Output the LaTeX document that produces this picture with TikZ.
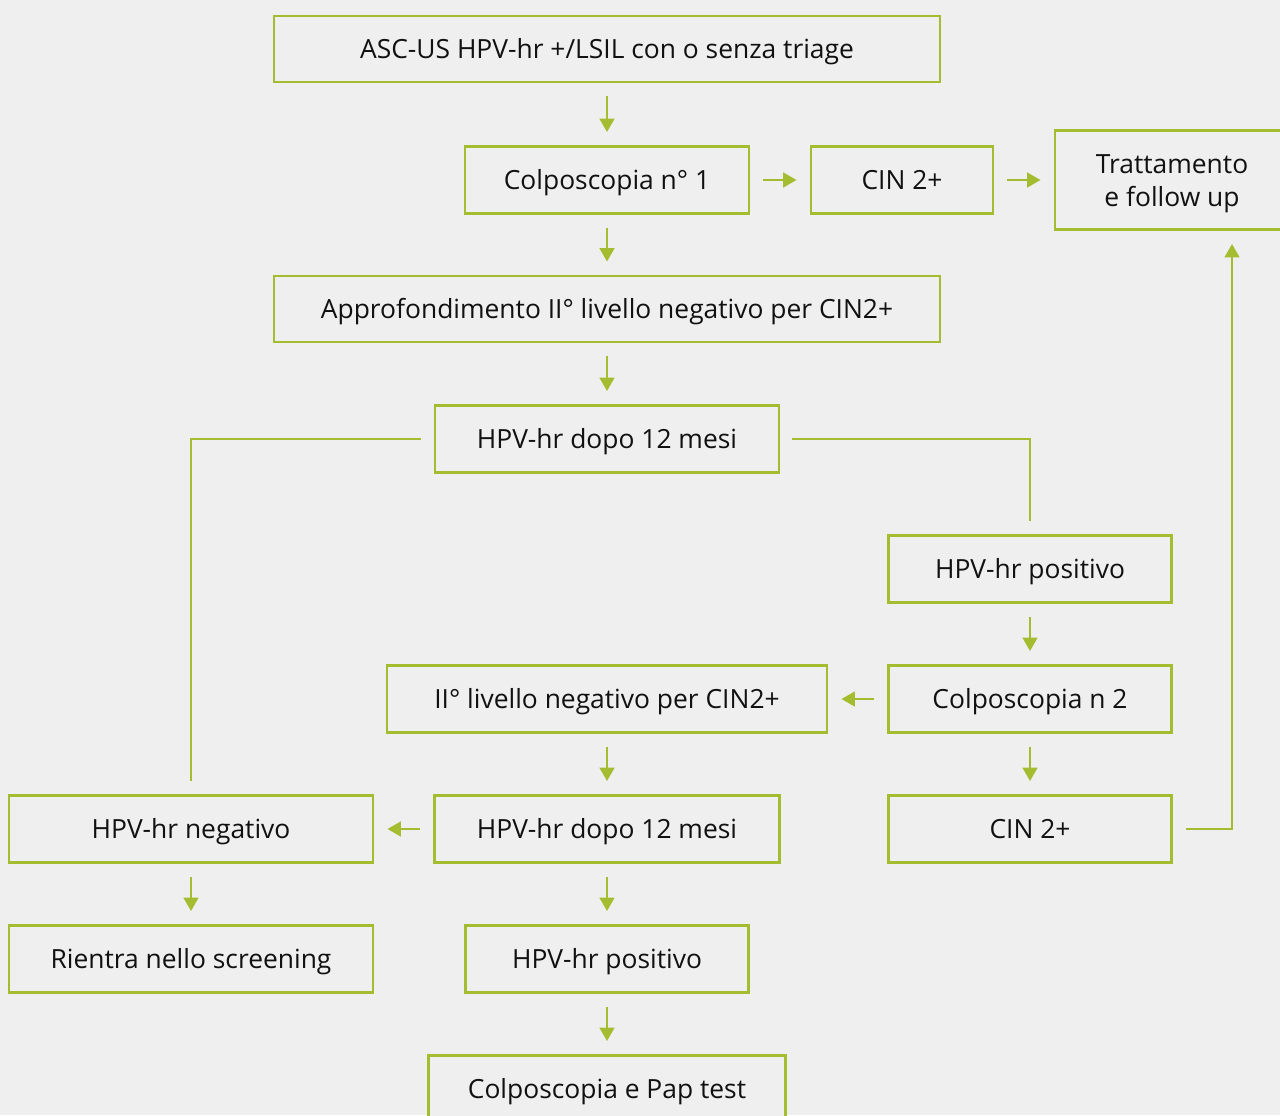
\documentclass[tikz,border=0pt]{standalone}
\usepackage{fontspec}
\setmainfont{Open Sans}
\usetikzlibrary{arrows.meta}
\definecolor{bg}{HTML}{EFEFEF}
\definecolor{lime}{HTML}{A4BD30}
\definecolor{ink}{HTML}{111111}
\tikzset{
  box/.style={draw=lime, line width=1.7pt, fill=bg, text=ink, inner sep=0pt, align=center,
    font=\fontsize{19.8pt}{24.75pt}\selectfont, text height=14pt, text depth=0pt},
  arr/.style={draw=lime, line width=1.7pt, -{Triangle[length=10pt,width=11pt]}, shorten <=10pt, shorten >=10pt},
  link/.style={draw=lime, line width=1.7pt}
}
\begin{document}
\begin{tikzpicture}[x=0.75pt,y=-0.75pt]
\useasboundingbox (0,0) rectangle (1280,1115);
\clip (0,0) rectangle (1280,1115);
\fill[bg] (0,0) rectangle (1280,1115);
\node[box, minimum width=666*0.75pt, minimum height=66*0.75pt] (b1) at (607,49) {ASC-US HPV-hr +/LSIL con o senza triage};
\node[box, minimum width=284*0.75pt, minimum height=67*0.75pt] (b2) at (607,180) {Colposcopia n° 1};
\node[box, minimum width=182*0.75pt, minimum height=67*0.75pt] (b3) at (902,180) {CIN 2+};
\node[box, minimum width=234*0.75pt, minimum height=99*0.75pt, text height=, text depth=] (b4) at (1172,180) {\rule{0pt}{20pt}Trattamento\\e follow up};
\node[box, minimum width=666*0.75pt, minimum height=66*0.75pt] (b5) at (607,309) {Approfondimento II° livello negativo per CIN2+};
\node[box, minimum width=344*0.75pt, minimum height=67*0.75pt] (b6) at (607,439) {HPV-hr dopo 12 mesi};
\node[box, minimum width=283*0.75pt, minimum height=67*0.75pt] (b7) at (1030,569) {HPV-hr positivo};
\node[box, minimum width=283*0.75pt, minimum height=67*0.75pt] (b8) at (1030,699) {Colposcopia n 2};
\node[box, minimum width=440*0.75pt, minimum height=67*0.75pt] (b9) at (607,699) {II° livello negativo per CIN2+};
\node[box, minimum width=364*0.75pt, minimum height=67*0.75pt] (b10) at (191,829) {HPV-hr negativo};
\node[box, minimum width=345*0.75pt, minimum height=67*0.75pt] (b11) at (607,829) {HPV-hr dopo 12 mesi};
\node[box, minimum width=283*0.75pt, minimum height=67*0.75pt] (b12) at (1030,829) {CIN 2+};
\node[box, minimum width=364*0.75pt, minimum height=67*0.75pt] (b13) at (191,959) {Rientra nello screening};
\node[box, minimum width=283*0.75pt, minimum height=67*0.75pt] (b14) at (607,959) {HPV-hr positivo};
\node[box, minimum width=357*0.75pt, minimum height=67*0.75pt] (b15) at (607,1089) {Colposcopia e Pap test};
% arrows
\draw[arr] (b1) -- (b2);
\draw[arr] (b2) -- (b3);
\draw[arr] (b3) -- (b4.west |- b3);
\draw[arr] (b2) -- (b5);
\draw[arr] (b5) -- (b6);
\draw[link, shorten <=10pt, shorten >=10pt] (b6.west) -| (b10.north);
\draw[link, shorten <=9pt, shorten >=10pt] (b6.east) -| (b7.north);
\draw[arr] (b7) -- (b8);
\draw[arr] (b8) -- (b9);
\draw[arr] (b9) -- (b11);
\draw[arr] (b8) -- (b12);
\draw[arr] (b11) -- (b10);
\draw[arr] (b12.east) -| ([xshift=45pt]b4.south);
\draw[arr] (b10) -- (b13);
\draw[arr] (b11) -- (b14);
\draw[arr] (b14) -- (b15);
\end{tikzpicture}
\end{document}
